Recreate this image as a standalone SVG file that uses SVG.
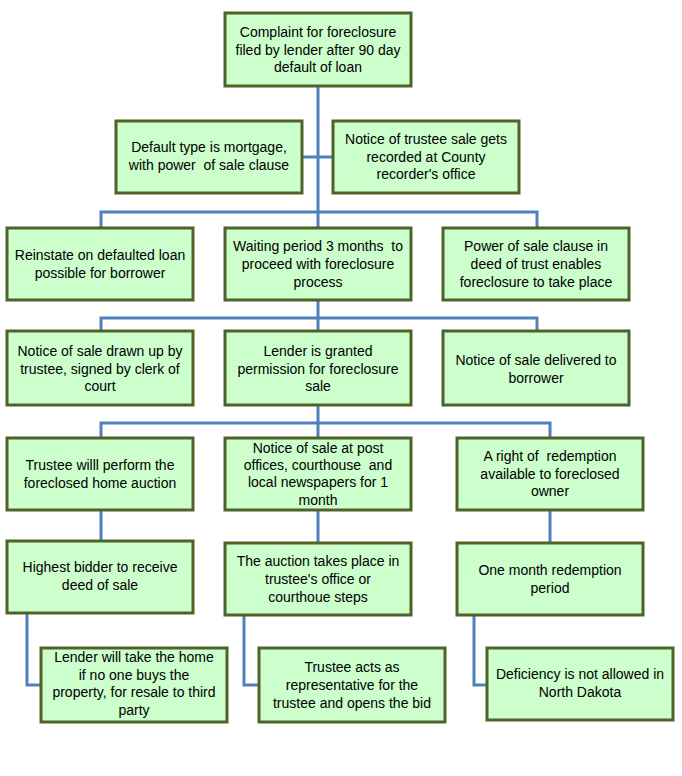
<svg xmlns="http://www.w3.org/2000/svg" width="682" height="776" viewBox="0 0 682 776" xml:space="preserve">
<style>
.box rect{fill:#ccffcc;stroke:#4f6228;stroke-width:3}
.box text{font-family:"Liberation Sans",Arial,sans-serif;font-size:14px;fill:#000;text-anchor:middle;dominant-baseline:central;white-space:pre}
.conn{fill:none;stroke:#4f81bd;stroke-width:3}
</style>
<rect width="682" height="776" fill="#fff"/>
<g id="connectors" class="conn">
<path d="M318 86V228"/>
<path d="M302 157H333"/>
<path d="M101 228V212H537V228"/>
<path d="M318 300V331"/>
<path d="M101 331V318H537V331"/>
<path d="M318 405V438"/>
<path d="M101 438V423H550V438"/>
<path d="M101 510V541"/>
<path d="M318 510V543"/>
<path d="M550 510V543"/>
<path d="M27 613V685H41"/>
<path d="M244 615V685H259"/>
<path d="M474 615V685H487"/>
</g>
<g id="n1" class="box"><rect x="225" y="13" width="186" height="73"/><text x="318" y="32">Complaint for foreclosure</text><text x="318" y="49.5">filed by lender after 90 day</text><text x="318" y="67">default of loan</text></g>
<g id="n2" class="box"><rect x="116" y="121" width="186" height="72"/><text x="209" y="147">Default type is mortgage,</text><text x="209" y="165">with power  of sale clause</text></g>
<g id="n3" class="box"><rect x="333" y="121" width="186" height="72"/><text x="426" y="139">Notice of trustee sale gets</text><text x="426" y="157">recorded at County</text><text x="426" y="174">recorder's office</text></g>
<g id="n4" class="box"><rect x="7" y="228" width="186" height="72"/><text x="100" y="255">Reinstate on defaulted loan</text><text x="100" y="273">possible for borrower</text></g>
<g id="n5" class="box"><rect x="225" y="228" width="186" height="72"/><text x="318" y="246">Waiting period 3 months  to</text><text x="318" y="264">proceed with foreclosure</text><text x="318" y="282">process</text></g>
<g id="n6" class="box"><rect x="443" y="228" width="186" height="72"/><text x="536" y="246">Power of sale clause in</text><text x="536" y="264">deed of trust enables</text><text x="536" y="282">foreclosure to take place</text></g>
<g id="n7" class="box"><rect x="7" y="331" width="186" height="74"/><text x="100" y="351">Notice of sale drawn up by</text><text x="100" y="369">trustee, signed by clerk of</text><text x="100" y="386">court</text></g>
<g id="n8" class="box"><rect x="225" y="331" width="186" height="74"/><text x="318" y="351">Lender is granted</text><text x="318" y="369">permission for foreclosure</text><text x="318" y="386">sale</text></g>
<g id="n9" class="box"><rect x="443" y="331" width="186" height="74"/><text x="536" y="360">Notice of sale delivered to</text><text x="536" y="378">borrower</text></g>
<g id="n10" class="box"><rect x="7" y="438" width="186" height="72"/><text x="100" y="465">Trustee willl perform the</text><text x="100" y="483">foreclosed home auction</text></g>
<g id="n11" class="box"><rect x="225" y="438" width="186" height="72"/><text x="318" y="448">Notice of sale at post</text><text x="318" y="465">offices, courthouse  and</text><text x="318" y="482">local newspapers for 1</text><text x="318" y="500">month</text></g>
<g id="n12" class="box"><rect x="457" y="438" width="186" height="72"/><text x="550" y="456">A right of  redemption</text><text x="550" y="474">available to foreclosed</text><text x="550" y="491">owner</text></g>
<g id="n13" class="box"><rect x="7" y="541" width="186" height="72"/><text x="100" y="567">Highest bidder to receive</text><text x="100" y="585">deed of sale</text></g>
<g id="n14" class="box"><rect x="225" y="543" width="186" height="72"/><text x="318" y="561">The auction takes place in</text><text x="318" y="579">trustee's office or</text><text x="318" y="597">courthoue steps</text></g>
<g id="n15" class="box"><rect x="457" y="543" width="186" height="72"/><text x="550" y="570">One month redemption</text><text x="550" y="588">period</text></g>
<g id="n16" class="box"><rect x="41" y="648" width="186" height="74"/><text x="134" y="657">Lender will take the home</text><text x="134" y="675">if no one buys the</text><text x="134" y="692">property, for resale to third</text><text x="134" y="710">party</text></g>
<g id="n17" class="box"><rect x="259" y="648" width="186" height="74"/><text x="352" y="667">Trustee acts as</text><text x="352" y="685">representative for the</text><text x="352" y="703">trustee and opens the bid</text></g>
<g id="n18" class="box"><rect x="487" y="648" width="186" height="72"/><text x="580" y="674">Deficiency is not allowed in</text><text x="580" y="692">North Dakota</text></g>
</svg>
